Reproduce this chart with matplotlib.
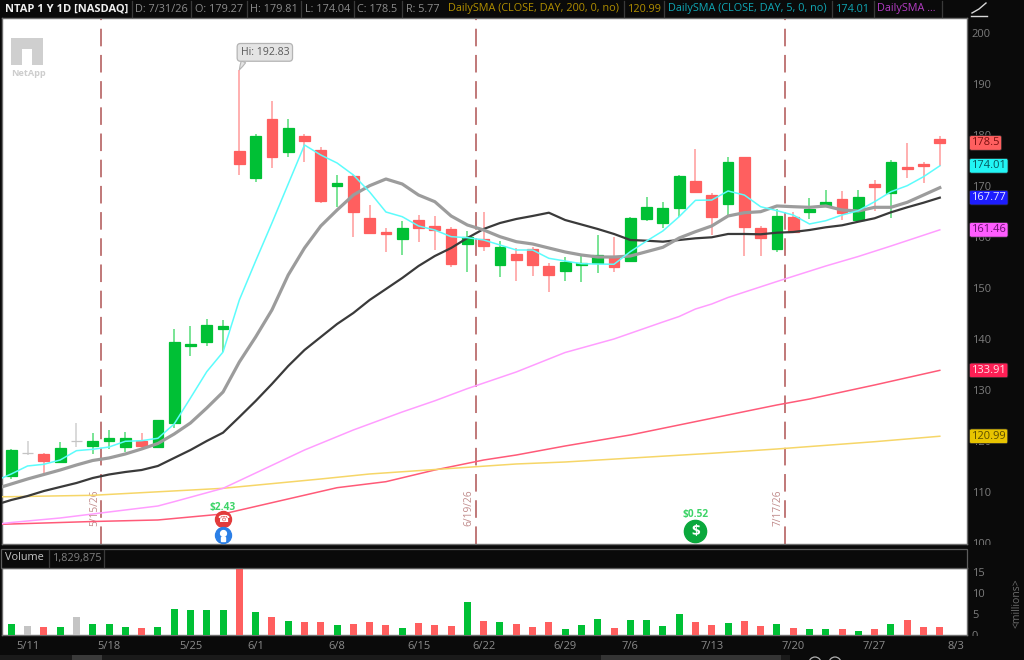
import matplotlib
matplotlib.use("Agg")
import matplotlib.pyplot as plt
from matplotlib.patches import Rectangle, Circle
from matplotlib.transforms import Bbox

W, H = 1024, 660
plt.rcParams['font.family'] = ['Open Sans', 'DejaVu Sans']

# ---------- data ----------
opens = [113.20,117.76,117.45,116.00,120.06,119.08,120.00,118.88,120.12,118.88,123.65,138.63,139.53,142.02,
         176.98,171.69,183.25,176.67,179.86,177.12,170.06,172.02,163.73,161.10,159.61,163.39,162.22,161.69,
         158.69,159.73,154.63,156.67,157.65,154.37,153.33,154.51,155.02,156.20,155.29,163.65,162.86,165.75,
         171.04,168.35,166.53,175.69,161.88,157.71,163.92,164.96,166.14,167.45,163.39,170.51,168.63,173.78,174.43,179.27]
closes = [118.29,117.76,116.14,118.75,120.06,120.12,120.65,120.65,119.08,124.12,139.47,139.08,142.86,142.55,
          174.37,179.86,175.75,181.37,178.94,167.12,170.55,165.02,160.78,160.59,161.82,161.88,161.37,154.76,
          160.12,158.29,158.04,155.55,154.57,152.55,155.10,154.90,156.47,154.24,163.73,166.00,165.69,172.02,
          168.94,164.04,174.71,162.08,159.80,164.18,161.10,165.49,166.86,164.82,167.96,169.92,174.71,173.39,174.04,178.50]
highs = [118.43,120.12,117.76,119.92,123.53,121.57,122.22,121.76,121.57,124.18,141.96,142.61,143.92,143.78,
         192.83,180.25,186.73,183.14,180.25,177.76,172.22,172.22,166.33,161.82,163.20,164.37,164.18,162.02,
         161.24,164.90,159.33,157.84,158.16,154.90,156.20,156.33,160.45,160.00,164.04,167.96,166.86,172.22,
         177.25,168.75,175.80,175.80,162.22,165.49,165.02,167.76,169.27,169.14,169.27,171.24,175.16,178.55,174.82,179.81]
lows = [112.61,117.31,113.84,116.00,118.94,117.51,118.43,117.96,118.55,118.88,122.67,136.78,138.75,137.57,
        172.27,170.90,173.65,175.80,174.76,166.73,166.00,160.00,160.65,157.18,156.53,159.14,157.51,154.12,
        153.25,157.31,152.27,151.43,152.47,149.33,151.43,151.18,153.06,153.25,155.29,163.25,161.76,164.04,
        168.94,160.45,164.37,156.39,156.39,157.18,161.10,163.59,165.88,163.39,163.39,165.22,163.84,171.69,170.59,174.04]
volumes = [2.6,2.1,1.9,1.9,4.2,2.6,2.6,1.9,1.7,1.9,6.3,5.9,5.9,5.9,15.7,5.6,4.4,3.3,3.1,3.1,2.4,2.6,3.1,2.4,1.7,
           2.9,2.4,2.1,7.9,3.3,3.1,2.6,1.9,3.1,1.4,2.4,3.8,1.7,3.6,3.6,2.1,4.9,3.1,2.4,2.9,3.3,2.1,2.6,1.7,1.4,
           1.4,1.4,1.0,1.4,2.6,3.6,1.9,1.83]
# the first value of each average belongs to the session just left of the visible window
sma_cyan = [112.22,113.59,115.16,115.49,116.33,118.16,118.43,118.88,120.00,120.12,120.59,123.39,128.49,133.65,137.51,
            147.71,155.35,162.80,170.45,178.10,176.14,174.57,172.22,168.88,164.96,164.04,162.22,161.43,160.12,
            159.92,159.47,158.49,157.51,157.51,155.88,155.35,154.82,154.76,154.71,157.18,159.27,161.24,164.04,
            167.25,167.31,169.08,168.29,166.00,165.22,164.37,162.61,163.25,164.37,165.22,166.98,168.94,170.12,171.88,174.01]
sma_gray = [110.65,111.63,112.61,113.49,114.37,115.35,116.24,116.73,117.51,118.49,119.57,121.43,123.59,126.53,129.67,
            135.55,140.45,145.75,152.61,157.90,162.22,165.35,168.29,170.12,171.43,170.45,168.29,166.98,164.18,
            162.41,161.43,160.12,159.14,158.69,157.90,157.12,156.53,156.14,156.14,156.33,157.18,158.04,159.86,
            161.10,162.22,164.18,164.82,165.02,166.14,166.00,165.88,166.14,165.35,165.16,165.88,165.88,166.86,168.29,169.73]
sma_black = [107.51,108.49,109.27,110.25,111.04,111.82,112.80,113.49,113.98,114.37,115.16,116.73,118.29,120.06,121.69,
             124.76,127.90,131.24,134.76,137.90,140.45,143.00,145.16,147.71,149.86,152.02,154.37,156.33,157.90,
             159.86,161.63,162.80,163.59,164.18,164.82,163.39,162.51,161.63,160.65,159.47,159.33,159.14,159.47,
             159.80,160.00,160.65,160.65,160.59,160.90,161.04,161.43,161.96,162.35,163.06,163.73,164.90,165.88,166.78,167.77]
pink_idx = [-1,0,3,6,9,10,13,15,18,21,24,26,28,31,34,37,40,41,42,43,44,47,50,52,54,57]
pink_val = [103.69,104.08,104.96,106.14,107.31,108.16,110.78,113.78,118.29,122.22,125.75,127.94,130.33,133.59,137.41,
            140.06,143.39,144.47,145.94,146.92,148.20,151.33,154.37,156.24,158.29,161.46]
red_idx = [-1,0,5,9,13,16,20,23,26,29,31,34,38,43,47,49,53,57]
red_val = [103.69,103.78,104.27,104.57,105.75,107.96,110.90,112.08,114.37,116.33,117.31,119.08,121.24,124.51,127.12,128.29,131.04,133.91]
yellow_idx = [-1,0,5,13,19,22,28,31,34,43,47,53,57]
yellow_val = [109.12,109.14,109.41,110.78,112.61,113.59,114.90,115.55,115.94,117.65,118.49,119.92,120.99]

tick_idx = [1,6,11,15,20,25,29,34,38,43,48,53,58]
tick_labels = ['5/11','5/18','5/25','6/1','6/8','6/15','6/22','6/29','7/6','7/13','7/20','7/27','8/3']
expiry_pos = [5.5,28.5,47.5]
expiry_labels = ['5/15/26','6/19/26','7/17/26']
price_ticks = [100,110,120,130,140,150,160,170,180,190,200]
vol_ticks = [0,5,10,15]
tags = [(178.5,'178.5','#ff5f5f','#7a1010'),(174.01,'174.01','#22f5f5','#06565c'),(167.77,'167.77','#1d1dff','#e8e8ff'),
        (161.46,'161.46','#ff5cff','#6a1070'),(133.91,'133.91','#ff1f55','#ffe0e6'),(120.99,'120.99','#e8c400','#5c4c00')]
header = [('D: 7/31/26',135,'#8c8c8c'),('O: 179.27',195,'#8c8c8c'),('H: 179.81',250,'#8c8c8c'),('L: 174.04',305,'#8c8c8c'),
          ('C: 178.5',357,'#8c8c8c'),('R: 5.77',406,'#8c8c8c'),('DailySMA (CLOSE, DAY, 200, 0, no)',448,'#b08e00'),
          ('120.99',628,'#b08e00'),('DailySMA (CLOSE, DAY, 5, 0, no)',668,'#10a6b4'),('174.01',836,'#10a6b4'),
          ('DailySMA ...',877,'#b43cc4')]
header_seps = [132,191,247,301,354,402,624,664,832,874,942]

GREEN, RED, GRAY = '#00c035', '#ff5f5f', '#c4c4c4'
BG = '#0a0a0a'
TXT = '#8a8a8a'

# ---------- layout ----------
fig = plt.figure(figsize=(W/100, H/100), dpi=100, facecolor=BG)
def axpx(l, t, r, b):
    return fig.add_axes([l/W, 1-b/H, (r-l)/W, (b-t)/H])
def fx(x): return x/W
def fy(y): return 1-y/H

ax = axpx(2, 18, 967, 544)
av = axpx(2, 568, 967, 635)
XL = (-0.57, 58.67)
ax.set_xlim(*XL); av.set_xlim(*XL)
ax.set_ylim(99.86, 203.0)
av.set_ylim(0, 16.0)
for a in (ax, av):
    a.set_facecolor('white')
    for s in a.spines.values():
        s.set_color('#6e6e6e'); s.set_linewidth(1)
    a.yaxis.tick_right()

n = len(opens)
xs = list(range(n))
line_xs = list(range(-1, n))
colors = [GREEN if c > o else RED if c < o else GRAY for o, c in zip(opens, closes)]
wick_colors = ['#55dd78' if c == GREEN else '#ff9a9a' if c == RED else '#d0d0d0' for c in colors]

# expiry lines
for p in expiry_pos:
    ax.axvline(p, color='#b25a5a', lw=1.15, dashes=(11, 5.4), zorder=1)
for p, s in zip(expiry_pos, expiry_labels):
    ax.annotate(s, xy=(p, 107), xytext=(-6.5, 0), textcoords='offset pixels', rotation=90, ha='center', va='center',
                fontsize=7.3, color='#c08a8a', zorder=1)

# candles
ax.vlines(xs, lows, highs, colors=wick_colors, lw=1.1, zorder=2)
ax.bar(xs, [c-o for o, c in zip(opens, closes)], bottom=opens, width=0.66, color=colors,
       edgecolor=colors, linewidth=0.9, zorder=3)

# moving averages
ax.plot(red_idx, red_val, color='#ff5a78', lw=1.1, zorder=4)
ax.plot(yellow_idx, yellow_val, color='#f6d668', lw=1.1, zorder=4)
ax.plot(pink_idx, pink_val, color='#ff9dff', lw=1.1, zorder=4)
ax.plot(line_xs, sma_black, color='#3a3a3a', lw=1.6, zorder=5)
ax.plot(line_xs, sma_gray, color='#9c9c9c', lw=2.3, zorder=5)
ax.plot(line_xs, sma_cyan, color='#5cfcfc', lw=1.1, zorder=6)

# price axis
ax.set_xticks([])
ax.set_yticks(price_ticks)
ax.tick_params(axis='y', length=0, pad=3.5, labelsize=8, labelcolor='#7c7c7c')
clip_main = Bbox([[968, H-545], [W, H-19]])
for t in ax.get_yticklabels():
    t.set_clip_on(True); t.set_clip_box(clip_main)

# price tags
for v, s, fc, tc in tags:
    ax.text(1.0045, v, s, transform=ax.get_yaxis_transform(), ha='left', va='center', fontsize=8, color=tc, zorder=10,
            clip_on=False, bbox=dict(boxstyle='round,pad=0.16', fc=fc, ec='#2a2a2a', lw=0.5))

# high callout
ax.annotate('Hi: 192.83', xy=(14, 192.83), xytext=(25.5, 17.5), textcoords='offset pixels', ha='center', va='center',
            fontsize=7.6, color='#5a5a5a', zorder=9,
            bbox=dict(boxstyle='round,pad=0.32', fc='#e4e4e4', ec='#b4b4b4', lw=0.9),
            arrowprops=dict(arrowstyle='wedge,tail_width=0.45,shrink_factor=0.6', fc='#e4e4e4', ec='#b4b4b4', lw=0.8,
                            shrinkA=0, shrinkB=0, relpos=(0.1, 0)))

# earnings / dividend events
ax.text(13, 107.1, '$2.43', ha='center', va='center', fontsize=7.3, fontweight='bold', color='#3ed468', zorder=8)
ax.plot([13], [104.76], 'o', ms=11.5, mfc='#e23b3b', mec='#e23b3b', zorder=8)
ax.text(13, 104.7, '\u260e', ha='center', va='center', fontsize=7, color='white', family='DejaVu Sans', zorder=9)
ax.plot([13], [101.62], 'o', ms=11.5, mfc='#2b7fe6', mec='#2b7fe6', zorder=8)
ax.plot([13], [102.0], 'o', ms=4.2, mfc='white', mec='white', zorder=9)
ax.plot([13], [100.85], 's', ms=2.2, mfc='white', mec='white', zorder=9)
ax.text(42, 105.55, '$0.52', ha='center', va='center', fontsize=7.3, fontweight='bold', color='#3ed468', zorder=8)
ax.plot([42], [102.41], 'o', ms=16, mfc='#0aa83c', mec='#0aa83c', zorder=8)
ax.text(42, 102.35, '$', ha='center', va='center', fontsize=11, fontweight='bold', color='white', zorder=9)

# volume
av.bar(xs, volumes, width=0.43, color=colors, linewidth=0, zorder=3)
av.set_xticks(tick_idx)
av.set_xticklabels(tick_labels)
av.set_yticks(vol_ticks)
av.tick_params(axis='x', length=0, pad=4, labelsize=8, labelcolor=TXT)
av.tick_params(axis='y', length=0, pad=3.5, labelsize=8, labelcolor='#7c7c7c')
clip_vol = Bbox([[968, H-636], [W, H-568]])
for t in av.get_yticklabels():
    t.set_clip_on(True); t.set_clip_box(clip_vol)
fig.text(fx(1017), fy(603), '<millions>', rotation=90, ha='center', va='center', fontsize=7.5, color='#6c6c6c')

# header strip
fig.text(fx(5), fy(9), 'NTAP 1 Y 1D [NASDAQ]', fontsize=8, fontweight='bold', color='#f0f0f0', va='center')
for s, x, c in header:
    fig.text(fx(x), fy(9), s, fontsize=7.8, color=c, va='center')
for x in header_seps:
    fig.add_artist(plt.Line2D([fx(x)]*2, [fy(1), fy(17)], color='#3a3a3a', lw=0.9))
fig.add_artist(plt.Line2D([fx(971), fx(987)], [fy(16)]*2, color='#d8d8d8', lw=1))
fig.add_artist(plt.Line2D([fx(972), fx(979), fx(986)], [fy(13), fy(9), fy(3)], color='#d8d8d8', lw=1))

# volume strip
fig.add_artist(Rectangle((fx(1), fy(568)), (966)/W, 19/H, transform=fig.transFigure, fc=BG, ec='#5c5c5c', lw=0.9))
fig.text(fx(5), fy(558), 'Volume', fontsize=7.8, color='#c8c8c8', va='center')
fig.text(fx(53), fy(558), '1,829,875', fontsize=7.8, color='#808080', va='center')
for x in (49, 104):
    fig.add_artist(plt.Line2D([fx(x)]*2, [fy(550), fy(567)], color='#3a3a3a', lw=0.9))

# bottom scrollbar
fig.add_artist(Rectangle((0, 0), fx(790), 5/H, transform=fig.transFigure, fc='#1a1a1a', ec='none'))
fig.add_artist(Rectangle((fx(72), 0), 30/W, 5/H, transform=fig.transFigure, fc='#3a3a3a', ec='none'))
fig.add_artist(Rectangle((fx(601), 0), 180/W, 5/H, transform=fig.transFigure, fc='#343434', ec='none'))

# NetApp logo and cropped toolbar icons
ax_logo = fig.add_axes([0, 0, 1, 1], facecolor='none')
ax_logo.set_xlim(0, W); ax_logo.set_ylim(H, 0); ax_logo.axis('off')
ax_logo.add_patch(Rectangle((11, 38), 32, 27, fc='#cfcfcf', ec='none'))
ax_logo.add_patch(Rectangle((22, 49), 10, 16, fc='white', ec='none'))
ax_logo.text(11, 73, 'NetApp', fontsize=6.6, fontweight='bold', color='#cdcdcd', va='center', ha='left')
for cx in (815, 835):
    ax_logo.add_patch(Circle((cx, 663), 6, fc='none', ec='#b0b0b0', lw=0.9))

fig.savefig('out.png', dpi=100, facecolor=BG)
